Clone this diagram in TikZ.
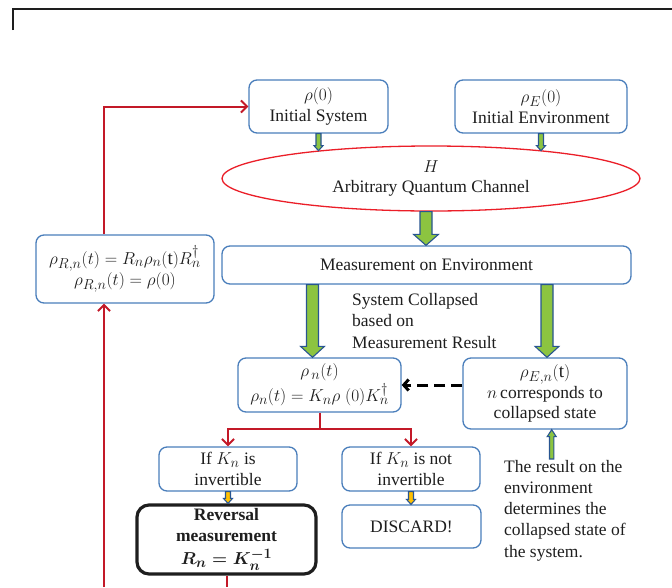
\documentclass[tikz,border=0pt]{standalone}
\usepackage{fontspec}
\setmainfont{Liberation Serif}
\usepackage{amsmath}
\DeclareMathSizes{17.5}{19}{13.5}{10}
\usetikzlibrary{shapes.geometric,arrows.meta,calc}
\definecolor{boxblue}{RGB}{74,126,187}
\definecolor{fatblue}{RGB}{40,85,145}
\definecolor{fatgreen}{RGB}{140,196,64}
\definecolor{fatyellow}{RGB}{255,192,0}
\definecolor{chanred}{RGB}{235,30,40}
\definecolor{linkred}{RGB}{195,25,40}
\definecolor{inkcol}{RGB}{30,30,30}
% vertical block arrow: start, end, shaft half-width, head half-width, head length, fill, sign (+ down, - up)
\newcommand{\fatv}[7]{\draw[fatline,fill=#6] let \p1=(#1), \p2=(#2) in
  (\x1-#3pt,\y1) -- (\x1-#3pt,\y2#7#5pt) -- (\x1-#4pt,\y2#7#5pt) -- (\x1,\y2)
  -- (\x1+#4pt,\y2#7#5pt) -- (\x1+#3pt,\y2#7#5pt) -- (\x1+#3pt,\y1) -- cycle;}
\begin{document}
\begin{tikzpicture}[x=1pt,y=-1pt,
  font=\fontsize{17.5}{20.5}\selectfont, text=inkcol,
  box/.style={draw=boxblue, line width=1.3pt, rounded corners=8pt, fill=white,
    align=center, inner sep=0pt},
  revbox/.style={draw=inkcol, line width=3.2pt, rounded corners=12pt, fill=white,
    align=center, inner sep=0pt},
  fatline/.style={draw=fatblue, line width=1.1pt, line join=miter},
  redlink/.style={draw=linkred, line width=2pt},
  redarrow/.style={redlink, -{Straight Barb[length=6pt,width=12pt]}},
  dasharrow/.style={draw=black, line width=3pt, dash pattern=on 11pt off 6pt,
    -{Straight Barb[length=5pt,width=11pt]}},
  plain/.style={align=left, inner sep=0pt, font=\fontsize{17.5}{21.3}\selectfont}
]
\useasboundingbox (0,0) rectangle (672,587);

% cropped frame corner at top left
\draw[inkcol, line width=2pt] (13,30) -- (13,8.5) -- (672,8.5);

% nodes
\node[box, minimum width=139pt, minimum height=53pt] (sys) at (318.5,106.5)
  {$\rho(0)$\\Initial System};
\node[box, minimum width=172pt, minimum height=53pt] (env) at (541,106.5)
  {$\rho_E(0)$\\Initial Environment};
\node[ellipse, draw=chanred, line width=1.3pt, fill=white, align=center, inner sep=0pt,
  minimum width=418pt, minimum height=65pt] (chan) at (431,178.5)
  {$H$\\Arbitrary Quantum Channel};
\node[box, minimum width=409pt, minimum height=38pt] (meas) at (426.5,265)
  {Measurement on Environment};
\node[box, minimum width=178pt, minimum height=68pt] (rr) at (125,269)
  {$\rho_{R,n}(t) = R_n\rho_n(\mathrm{t})R_n^{\dagger}$\\[1pt]$\rho_{R,n}(t) = \rho(0)$};
\node[box, minimum width=163pt, minimum height=54pt] (rn) at (319.5,385)
  {$\rho_{\,n}(t)$\\[1pt]$\rho_n(t) = K_n\rho\;(0)K_n^{\dagger}$};
\node[box, minimum width=164pt, minimum height=71pt] (ren) at (545,393.5)
  {$\rho_{E,n}(\mathrm{t})$\\$n$\,corresponds to\\collapsed state};
\node[box, minimum width=138pt, minimum height=44pt] (inv) at (228,469)
  {If $K_n$ is\\invertible};
\node[box, minimum width=138pt, minimum height=44pt] (ninv) at (411,469)
  {If $K_n$ is not\\invertible};
\node[revbox, minimum width=179pt, minimum height=69pt] (rev) at (226.5,539.5)
  {\textbf{Reversal}\\\textbf{measurement}\\[3pt]{\boldmath$R_n = K_n^{-1}$}};
\node[box, minimum width=139pt, minimum height=43pt] (disc) at (411.5,526.5)
  {DISCARD!};
\node[plain, anchor=west] (coll) at (352,321)
  {System Collapsed\\based on\\Measurement Result};
\node[plain, anchor=west] (res) at (504,510.5)
  {The result on the\\environment\\determines the\\collapsed state of\\the system.};

% block arrows
\fatv{sys.south}{$(sys.south)+(0,17)$}{2.5}{4.5}{5}{fatgreen}{+}
\fatv{env.south}{$(env.south)+(0,17)$}{2.5}{4.5}{5}{fatgreen}{+}
\fatv{[xshift=-5pt]chan.south}{[xshift=-5pt]meas.north}{6}{12.5}{11}{fatgreen}{+}
\fatv{[xshift=-7pt]rn.north |- meas.south}{[xshift=-7pt]rn.north}{6}{12}{11}{fatgreen}{+}
\fatv{[xshift=2pt]ren.north |- meas.south}{[xshift=2pt]ren.north}{6}{12}{11}{fatgreen}{+}
\fatv{inv.south}{inv.south |- rev.north}{2.5}{4.5}{5}{fatyellow}{+}
\fatv{ninv.south}{ninv.south |- disc.north}{2.5}{4.5}{5}{fatyellow}{+}
\coordinate (resarr) at (551.7,459);
\fatv{resarr}{resarr |- ren.south}{2.2}{4.5}{7}{fatgreen}{-}

% dashed arrow
\draw[dasharrow] (ren.west |- rn.east) -- (rn.east);

% red connectors
\draw[redarrow] ([xshift=-21pt]rr.north) |- (sys.west);
\coordinate (leftbot) at (104,587);
\draw[redarrow] (leftbot) -- ([xshift=-21pt]rr.south);
\draw[redlink] (rn.south) -- ++(0,16) coordinate (branch);
\draw[redarrow] (branch) -| (inv.north);
\draw[redarrow] (branch) -| (ninv.north);
\coordinate (revbot) at (226.5,587);
\draw[redlink] (rev.south) -- (revbot);
\end{tikzpicture}
\end{document}
